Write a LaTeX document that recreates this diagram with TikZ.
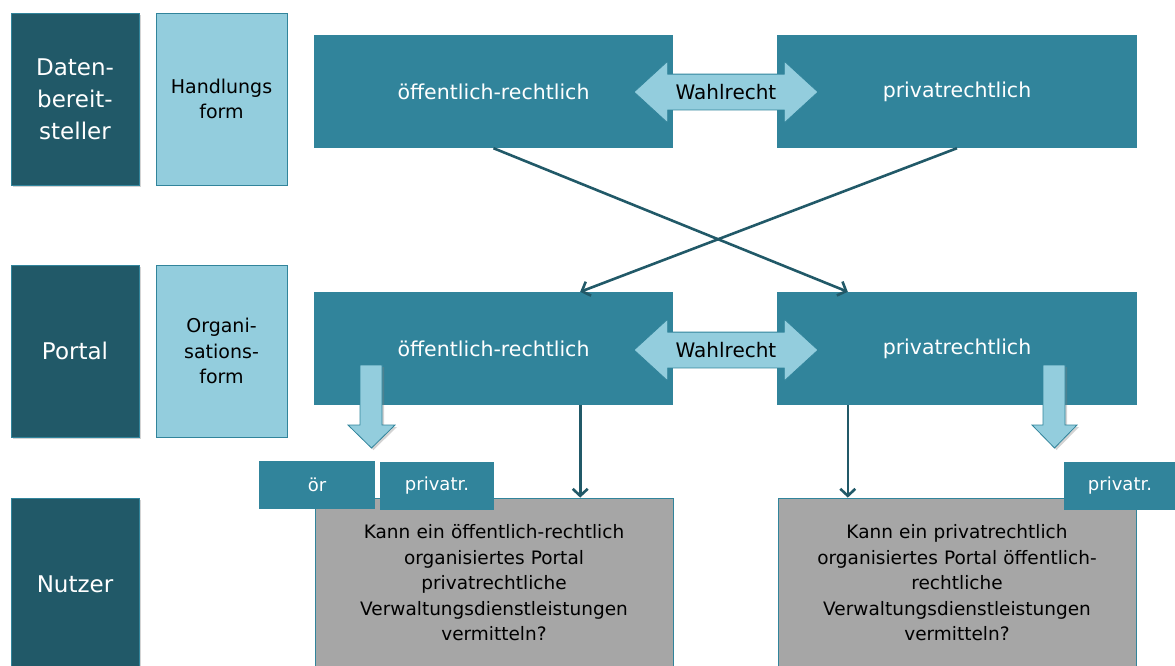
\documentclass[tikz,border=0pt]{standalone}
\usepackage{fontspec}
\setmainfont{DejaVu Sans}
\usetikzlibrary{calc, positioning, shapes.arrows, shadows, arrows.meta}

\begin{document}
\begin{tikzpicture}[
    x=1pt, y=-1pt,
    >={Straight Barb[length=7pt,width=15pt]},
]

\definecolor{dark_color}{RGB}{33,89,104}
\definecolor{box_color}{RGB}{49,132,155}
\definecolor{light_color}{RGB}{147,205,221}
\definecolor{gray_color}{RGB}{166,166,166}

\tikzstyle{lbl} = [rectangle, fill=dark_color, draw=box_color, line width=.8pt, text=white, minimum width=128pt, minimum height=172pt, text width=120pt, text centered, inner sep=0pt, font=\fontsize{23}{32}\selectfont, drop shadow={shadow xshift=2pt, shadow yshift=-2pt, opacity=.35}]
\tikzstyle{form} = [rectangle, fill=light_color, draw=box_color, line width=.8pt, minimum width=131pt, minimum height=172pt, text width=120pt, text centered, inner sep=0pt, font=\fontsize{19}{25.5}\selectfont]
\tikzstyle{sqr} = [rectangle, fill=box_color, text=white, minimum width=359pt, minimum height=113pt, inner sep=0pt, font=\fontsize{20.5}{24}\selectfont]
\tikzstyle{ask} = [rectangle, fill=gray_color, draw=box_color, line width=.8pt, minimum width=358pt, minimum height=170pt, text width=340pt, text centered, inner sep=0pt, font=\fontsize{18.5}{25.5}\selectfont]
\tikzstyle{tag} = [rectangle, fill=box_color, text=white, minimum height=48pt, inner sep=0pt, font=\fontsize{18}{20}\selectfont]
\tikzstyle{choice} = [double arrow, fill=light_color, draw=box_color, line width=.8pt, double arrow head extend=13pt, double arrow tip angle=85, minimum height=184pt, inner xsep=2pt, inner ysep=7.2pt, text height=17.6pt, text depth=3pt, font=\fontsize{20}{24}\selectfont]
\tikzstyle{drop} = [fill=light_color, draw=box_color, line width=.8pt, drop shadow={shadow xshift=2pt, shadow yshift=-2pt, opacity=.35}]
\tikzstyle{link} = [->, draw=dark_color, line width=2.6pt]

\useasboundingbox (0,0) rectangle (1175,665);

% left column
\node (daten) [lbl] at (75,99) {Daten-\\bereit-\\steller};
\node (portal) [lbl] at (75,351) {Portal};
\node (nutzer) [lbl] at (75,584) {Nutzer};

\node (handlung) [form] at (221.5,99) {Handlungs\\form};
\node (organisation) [form] at (221.5,351) {Organi-\\sations-\\form};

% top row
\node (oerTop) [sqr] at (493.5,91.5) {öffentlich-rechtlich};
\node (privTop) [sqr, minimum width=360pt] at (957,91.5) {privatrechtlich};
\node (wahlTop) [choice] at (726,92) {Wahlrecht};

% middle row
\node (oerMid) [sqr] at (493.5,348.5) {öffentlich-rechtlich};
\node (privMid) [sqr, minimum width=360pt] at (957,348.5) {privatrechtlich};
\node (wahlMid) [choice] at (726,350) {Wahlrecht};

% bottom row
\node (qLeft) [ask] at (494,583) {Kann ein öffentlich-rechtlich\\organisiertes Portal\\privatrechtliche\\Verwaltungsdienstleistungen\\vermitteln?};
\node (qRight) [ask] at (957,583) {Kann ein privatrechtlich\\organisiertes Portal öffentlich-\\rechtliche\\Verwaltungsdienstleistungen\\vermitteln?};

\node (tagOer) [tag, minimum width=116pt] at (317,485) {ör};
\node (tagPriv) [tag, minimum width=114pt] at (437,486) {privatr.};
\node (tagPrivR) [tag, minimum width=112pt] at (1120,486) {privatr.};

% block arrows
\draw[drop] (360,365) -- (382,365) -- (382,425) -- (395,425) -- (371.5,448) -- (348,425) -- (360,425) -- cycle;
\draw[drop] (1043,365) -- (1065,365) -- (1065,425) -- (1077,425) -- (1054.5,448) -- (1032,425) -- (1043,425) -- cycle;

\coordinate (oerIn) at ($ (oerMid.north east) + (-93,0) $);
\coordinate (oerOut) at ($ (oerMid.south east) + (-93,0) $);
\coordinate (privIn) at ($ (privMid.north west) + (71,0) $);
\coordinate (privOut) at ($ (privMid.south west) + (71,0) $);

\draw[link] (oerTop.south) -- (privIn);
\draw[link] (privTop.south) -- (oerIn);
\draw[link] (oerOut) -- (oerOut |- qLeft.north);
\draw[link] (privOut) -- (privOut |- qRight.north);

\end{tikzpicture}
\end{document}
